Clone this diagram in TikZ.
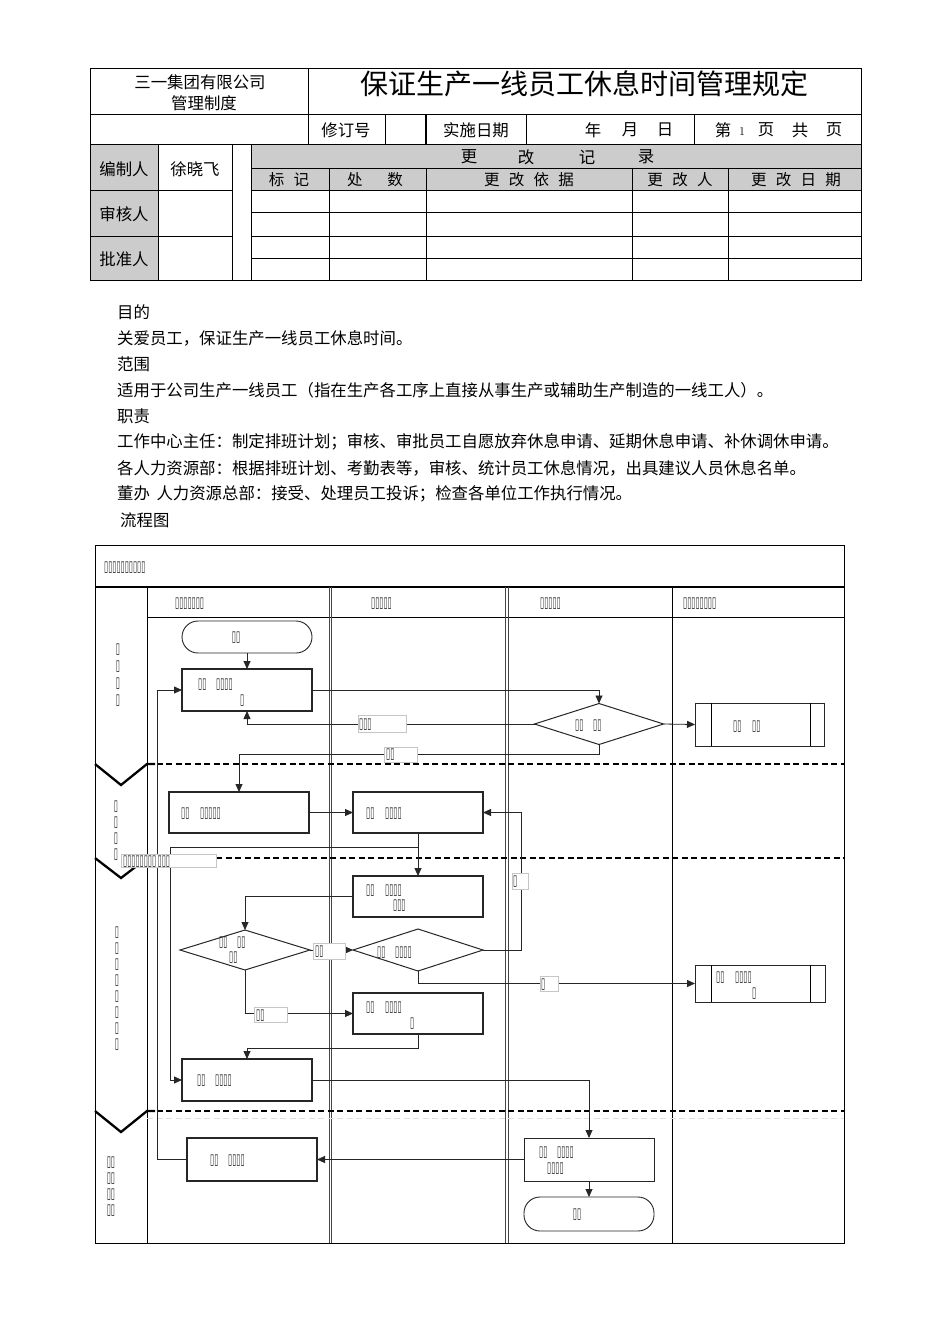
\documentclass[tikz,border=0pt]{standalone}
\usepackage{fontspec}
\newfontfamily\cjk{Noto Sans CJK SC}
\newfontfamily\tofufont[FakeStretch=0.5]{DejaVu Sans}
\usetikzlibrary{arrows.meta,shapes.geometric}
\tikzset{
  cj/.style={font=\cjk\fontsize{16.4}{16.4}\selectfont, inner sep=0pt},
  cjs/.style={font=\cjk\fontsize{15.5}{15.5}\selectfont, inner sep=0pt},
  body/.style={font=\cjk\fontsize{16.4}{16.4}\selectfont, inner sep=0pt, anchor=west},
  tf/.style={font=\tofufont\fontsize{15}{15}\selectfont, inner sep=0pt, anchor=west, text=black!85},
  box/.style={draw=black!85, line width=1.1pt, rectangle, inner sep=0pt, outer sep=0pt},
  term/.style={draw=black!85, line width=0.9pt, rectangle, rounded corners=16pt, inner sep=0pt, outer sep=0pt},
  dia/.style={draw=black!85, line width=1pt, diamond, inner sep=0pt, outer sep=0pt},
  lbl/.style={draw=gray!45, fill=white, line width=0.6pt, rectangle, inner sep=0pt, outer sep=0pt},
  con/.style={draw=black!85, line width=0.8pt, -{Triangle[length=8pt,width=7pt]}},
  sep/.style={line width=2.3pt, dash pattern=on 6pt off 3.5pt},
  chev/.style={line width=2.3pt, line join=miter},
  lanesep/.style={draw=gray!55!black, line width=0.9pt},
}
\begin{document}
\begin{tikzpicture}[x=1pt,y=-1pt]
\fill[white] (0,0) rectangle (950,1344);
\path[use as bounding box] (0,0) rectangle (950,1344);

% ================= header table =================
\fill[gray!40] (90,144) rectangle (158,280);
\fill[gray!40] (251,144) rectangle (861,190);
\draw[line width=0.9pt] (90,68) rectangle (861,280);
\draw[line width=0.8pt] (90,114) -- (861,114) (90,144) -- (861,144);
\draw[line width=0.8pt] (308,68) -- (308,144);
\draw[line width=0.8pt] (385,114) -- (385,144) (526,114) -- (526,144) (694,114) -- (694,144);
\draw[line width=1.4pt] (426,114) -- (426,144);
\draw[line width=0.8pt] (158,144) -- (158,280) (232,144) -- (232,280) (251,144) -- (251,280);
\draw[line width=0.8pt] (90,190) -- (232,190) (90,236) -- (232,236);
\draw[line width=0.8pt] (251,168) -- (861,168) (251,190) -- (861,190) (251,212) -- (861,212)
  (251,236) -- (861,236) (251,258) -- (861,258);
\draw[line width=0.8pt] (329,168) -- (329,280) (426,168) -- (426,280) (632,168) -- (632,280) (728,168) -- (728,280);

\node[cj] (co1) at (200,82) {三一集团有限公司};
\node[cj] (co2) at (204,103) {管理制度};
\node[font=\cjk\fontsize{28}{28}\selectfont, inner sep=0pt] (title) at (584,84) {保证生产一线员工休息时间管理规定};
\node[cj] (rev) at (346,130) {修订号};
\node[cj] (impl) at (476,130) {实施日期};
\node[cj] (yr) at (593,130) {年};
\node[cj] (mo) at (630,130) {月};
\node[cj] (dy) at (665,130) {日};
\node[cj] (di) at (723,130) {第};
\node[font=\fontsize{12}{12}\selectfont, inner sep=0pt] (one) at (742,132) {1};
\node[cj] (ye1) at (766,130) {页};
\node[cj] (go) at (800,130) {共};
\node[cj] (ye2) at (834,130) {页};
\node[cj] (bz) at (124,169) {编制人};
\node[cj] (xu) at (195,169) {徐晓飞};
\node[cj] (sh) at (124,214) {审核人};
\node[cj] (pz) at (124,259) {批准人};
\node[cj] (g1) at (469,157) {更};
\node[cj] (g2) at (526,157) {改};
\node[cj] (g3) at (587,157) {记};
\node[cj] (g4) at (646,157) {录};
\node[cjs] (h1) at (289,180) {标\hspace{0.6em}记};
\node[cjs] (h2) at (375,180) {处\hspace{1.6em}数};
\node[cjs] (h3) at (529,180) {更\hspace{0.6em}改\hspace{0.6em}依\hspace{0.6em}据};
\node[cjs] (h4) at (680,180) {更\hspace{0.6em}改\hspace{0.6em}人};
\node[cjs] (h5) at (796,180) {更\hspace{0.6em}改\hspace{0.6em}日\hspace{0.6em}期};

% ================= body text =================
\node[body] (p1) at (117,312) {目的};
\node[body] (p2) at (117,338) {关爱员工，保证生产一线员工休息时间。};
\node[body] (p3) at (117,364) {范围};
\node[body] (p4) at (117,390) {适用于公司生产一线员工（指在生产各工序上直接从事生产或辅助生产制造的一线工人）。};
\node[body] (p5) at (117,416) {职责};
\node[body] (p6) at (117,442) {工作中心主任：制定排班计划；审核、审批员工自愿放弃休息申请、延期休息申请、补休调休申请。};
\node[body] (p7) at (117,468) {各人力资源部：根据排班计划、考勤表等，审核、统计员工休息情况，出具建议人员休息名单。};
\node[body] (p8) at (117,494) {董办\hspace{0.4em}人力资源总部：接受、处理员工投诉；检查各单位工作执行情况。};
\node[body] (p9) at (120,520) {流程图};

% ================= flowchart frame =================
\draw[line width=1pt] (95,545) rectangle (844,1243);
\draw[line width=1.2pt] (95,587) -- (844,587);
\draw[line width=0.8pt] (147,587) -- (147,1243);
\draw[line width=0.8pt] (147,617) -- (844,617);
\draw[lanesep] (329.3,587) -- (329.3,1243) (331.8,587) -- (331.8,1243);
\draw[lanesep] (505.5,587) -- (505.5,1243) (508,587) -- (508,1243);
\draw[line width=1pt] (672,587) -- (672,1243);

\node[tf] (ftitle) at (104,568) {▯▯▯▯▯▯▯▯▯▯};
\node[tf] (lane1) at (175,604) {▯▯▯▯▯▯▯};
\node[tf] (lane2) at (371,604) {▯▯▯▯▯};
\node[tf] (lane3) at (540,604) {▯▯▯▯▯};
\node[tf] (lane4) at (683,604) {▯▯▯▯▯▯▯▯};

% phase separators
\draw[sep] (147,764) -- (844,764);
\draw[sep] (216,858) -- (844,858);
\draw[sep] (147,1111) -- (844,1111);
\draw[gray!25, line width=0.8pt, dash pattern=on 6pt off 3.5pt] (147,1118) -- (844,1118);
\draw[chev] (95,764) -- (121,785) -- (147,764) -- (155,764);
\draw[chev] (95,858) -- (121,878) -- (147,858);
\draw[chev] (95,1111) -- (121,1132) -- (147,1111) -- (155,1111);

% phase labels
\node[tf, anchor=center, align=center] (ph1) at (118,675) {▯\\[2pt]▯\\[2pt]▯\\[2pt]▯};
\node[tf, anchor=center, align=center] (ph2) at (116,831) {▯\\[1pt]▯\\[1pt]▯\\[1pt]▯};
\node[tf, anchor=center, align=center] (ph3) at (117,989) {▯\\[1pt]▯\\[1pt]▯\\[1pt]▯\\[1pt]▯\\[1pt]▯\\[1pt]▯\\[1pt]▯};
\node[tf, anchor=center, align=center] (ph4) at (111,1187) {▯▯\\[1pt]▯▯\\[1pt]▯▯\\[1pt]▯▯};

% ================= flowchart nodes =================
\node[term, minimum width=130pt, minimum height=32pt] (start) at (247,637) {};
\node[tf, anchor=center] (startt) at (236,638) {▯▯};

\node[box, minimum width=130pt, minimum height=42pt] (b1) at (247,690) {};
\node[tf] (b1a) at (198,685) {▯▯};
\node[tf] (b1b) at (216,685) {▯▯▯▯};
\node[tf] (b1c) at (240,701) {▯};

\node[dia, minimum width=129pt, minimum height=41pt] (d1) at (599,724) {};
\node[tf] (d1a) at (575,726) {▯▯};
\node[tf] (d1b) at (593,726) {▯▯};

\node[box, line width=0.9pt, minimum width=129pt, minimum height=43pt] (r1) at (759.5,724.5) {};
\draw[line width=0.9pt] ([xshift=16pt]r1.north west) -- ([xshift=16pt]r1.south west);
\draw[line width=0.9pt] ([xshift=-14pt]r1.north east) -- ([xshift=-14pt]r1.south east);
\node[tf] (r1a) at (733,727) {▯▯};
\node[tf] (r1b) at (752,727) {▯▯};

\node[box, minimum width=140pt, minimum height=41pt] (b2) at (239,812.5) {};
\node[tf] (b2a) at (181,814) {▯▯};
\node[tf] (b2b) at (200,814) {▯▯▯▯▯};

\node[box, minimum width=130pt, minimum height=41pt] (b3) at (418,812.5) {};
\node[tf] (b3a) at (366,814) {▯▯};
\node[tf] (b3b) at (385,814) {▯▯▯▯};

\node[box, minimum width=130pt, minimum height=41pt] (b4) at (418,896.5) {};
\node[tf] (b4a) at (366,891) {▯▯};
\node[tf] (b4b) at (385,891) {▯▯▯▯};
\node[tf] (b4c) at (393,906) {▯▯▯};

\node[dia, minimum width=130pt, minimum height=40pt] (d2) at (245,950) {};
\node[tf] (d2a) at (219,943) {▯▯};
\node[tf] (d2b) at (237,943) {▯▯};
\node[tf] (d2c) at (229,958) {▯▯};

\node[dia, minimum width=130pt, minimum height=42pt] (d3) at (418,950) {};
\node[tf] (d3a) at (377,953) {▯▯};
\node[tf] (d3b) at (395,953) {▯▯▯▯};

\node[box, line width=0.9pt, minimum width=130pt, minimum height=37pt] (r2) at (760,983.5) {};
\draw[line width=0.9pt] ([xshift=16pt]r2.north west) -- ([xshift=16pt]r2.south west);
\draw[line width=0.9pt] ([xshift=-15pt]r2.north east) -- ([xshift=-15pt]r2.south east);
\node[tf] (r2a) at (716,978) {▯▯};
\node[tf] (r2b) at (735,978) {▯▯▯▯};
\node[tf] (r2c) at (752,994) {▯};

\node[box, minimum width=130pt, minimum height=41pt] (b5) at (418,1013.5) {};
\node[tf] (b5a) at (366,1008) {▯▯};
\node[tf] (b5b) at (385,1008) {▯▯▯▯};
\node[tf] (b5c) at (410,1024) {▯};

\node[box, minimum width=130pt, minimum height=42pt] (b6) at (247,1080) {};
\node[tf] (b6a) at (197,1081) {▯▯};
\node[tf] (b6b) at (215,1081) {▯▯▯▯};

\node[box, line width=0.9pt, minimum width=130pt, minimum height=43pt] (b8) at (589,1159.5) {};
\node[tf] (b8a) at (539,1153) {▯▯};
\node[tf] (b8b) at (557,1153) {▯▯▯▯};
\node[tf] (b8c) at (547,1169) {▯▯▯▯};

\node[box, minimum width=130pt, minimum height=43pt] (b9) at (252,1159.5) {};
\node[tf] (b9a) at (210,1161) {▯▯};
\node[tf] (b9b) at (228,1161) {▯▯▯▯};

\node[term, minimum width=130pt, minimum height=34pt] (stop) at (589,1214) {};
\node[tf, anchor=center] (stopt) at (577,1215) {▯▯};

% ================= connectors =================
\coordinate (j1) at (599,690);
\coordinate (j2) at (247,724);
\coordinate (j3a) at (599,754);
\coordinate (j3b) at (239,754);
\coordinate (j4) at (418,847);
\coordinate (j4b) at (170,847);
\coordinate (j4c) at (170,1080);
\coordinate (j5) at (245,896.5);
\coordinate (j6a) at (521,950);
\coordinate (j6b) at (521,812.5);
\coordinate (j7) at (418,983.5);
\coordinate (j8) at (245,1013.5);
\coordinate (j9a) at (418,1048);
\coordinate (j9b) at (247,1048);
\coordinate (j10) at (589,1080);
\coordinate (j11a) at (157,1159.5);
\coordinate (j11b) at (157,690);

\draw[con] (start.south) -- (b1.north);
\draw[con] (b1.east) -- (j1) -- (d1.north);
\draw[con] (d1.east) -- (r1.west);
\draw[con] (d1.west) -- (j2) -- (b1.south);
\draw[con] (d1.south) -- (j3a) -- (j3b) -- (b2.north);
\draw[con] (b2.east) -- (b3.west);
\draw[con] (b3.south) -- (b4.north);
\draw[con] (j4) -- (j4b) -- (j4c) -- (b6.west);
\draw[con] (b4.west) -- (j5) -- (d2.north);
\draw[con] (d2.east) -- (d3.west);
\draw[con] (d3.east) -- (j6a) -- (j6b) -- (b3.east);
\draw[con] (d3.south) -- (j7) -- (r2.west);
\draw[con] (d2.south) -- (j8) -- (b5.west);
\draw[con] (b5.south) -- (j9a) -- (j9b) -- (b6.north);
\draw[con] (b6.east) -- (j10) -- (b8.north);
\draw[con] (b8.west) -- (b9.east);
\draw[con] (b9.west) -- (j11a) -- (j11b) -- (b1.west);
\draw[con] (b8.south) -- (stop.north);

% ================= connector labels =================
\node[lbl, minimum width=48pt, minimum height=17pt] (l1) at (382,723.5) {};
\node[tf] (l1t) at (359,725) {▯▯▯};
\node[lbl, minimum width=33pt, minimum height=15pt] (l2) at (400.5,754.5) {};
\node[tf] (l2t) at (386,755) {▯▯};
\node[lbl, minimum width=16pt, minimum height=16pt] (l3) at (520,881) {};
\node[tf] (l3t) at (513,882) {▯};
\node[lbl, minimum width=95pt, minimum height=13pt] (l4) at (168.5,860.5) {};
\node[tf] (l4t) at (123,862) {▯▯▯▯▯▯▯▯\hspace{1.5pt}▯▯▯};
\node[lbl, minimum width=32pt, minimum height=16pt] (l5) at (329,951) {};
\node[tf] (l5t) at (315,952) {▯▯};
\node[lbl, minimum width=18pt, minimum height=15pt] (l6) at (549,983.5) {};
\node[tf] (l6t) at (541,985) {▯};
\node[lbl, minimum width=33pt, minimum height=15pt] (l7) at (270.5,1014.5) {};
\node[tf] (l7t) at (256,1016) {▯▯};
\end{tikzpicture}
\end{document}
